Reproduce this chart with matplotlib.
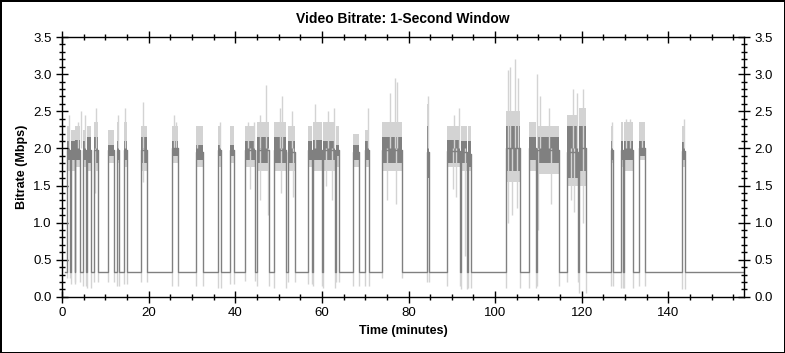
import matplotlib
matplotlib.use('Agg')
import matplotlib.pyplot as plt
from matplotlib.ticker import MultipleLocator, FormatStrFormatter
import numpy as np

plt.rcParams['font.family'] = ['Liberation Sans', 'DejaVu Sans']

# active segments (minutes) and their levels (Mbps)
seg_start = [1.2, 2.0, 3.0, 4.8, 5.8, 7.4, 10.7, 12.8, 14.3, 18.2, 25.5, 30.9, 36.1, 38.9,
             42.3, 45.0, 49.0, 52.2, 56.8, 57.9, 60.3, 63.2, 67.2, 70.0, 73.9, 84.3,
             88.9, 92.1, 93.8, 102.5, 107.9, 109.7, 116.6, 119.4, 126.8, 129.1, 129.8,
             133.3, 143.2]
seg_end = [1.9, 2.9, 4.2, 5.5, 6.6, 8.2, 12.0, 13.2, 14.9, 19.6, 26.8, 32.5, 36.6, 39.6,
           44.6, 47.9, 51.8, 53.8, 57.7, 60.1, 63.0, 64.0, 68.6, 70.9, 78.5, 84.8,
           91.9, 93.6, 94.5, 105.8, 109.5, 114.8, 119.2, 121.0, 127.3, 129.6, 131.9,
           134.6, 143.9]
dark_lo = [1.85, 1.85, 1.85, 1.85, 1.8, 1.8, 1.9, 1.85, 1.85, 1.8, 1.9, 1.85, 1.9, 1.9,
           1.85, 1.8, 1.8, 1.8, 1.85, 1.85, 1.85, 1.9, 1.85, 1.85, 1.8, 1.6,
           1.8, 1.8, 1.75, 1.7, 1.85, 1.8, 1.6, 1.7, 1.85, 1.85, 1.85, 1.9, 1.85]
dark_hi = [2.1, 2.1, 2.12, 2.1, 2.15, 2.15, 2.05, 2.1, 2.1, 2.15, 2.1, 2.05, 2.05, 2.05,
           2.1, 2.15, 2.15, 2.1, 2.1, 2.12, 2.1, 2.05, 2.05, 2.1, 2.15, 2.3,
           2.12, 2.1, 2.1, 2.3, 2.15, 2.15, 2.3, 2.3, 2.1, 2.1, 2.1, 2.1, 2.08]
light_lo = [1.7, 1.7, 1.75, 1.75, 1.7, 1.7, 1.8, 1.8, 1.75, 1.7, 1.8, 1.75, 1.75, 1.8,
            1.75, 1.7, 1.7, 1.7, 1.75, 1.7, 1.7, 1.75, 1.75, 1.75, 1.7, 1.6,
            1.75, 1.7, 1.7, 1.55, 1.7, 1.65, 1.5, 1.5, 1.8, 1.75, 1.7, 1.85, 1.75]
light_hi = [2.3, 2.25, 2.3, 2.25, 2.3, 2.35, 2.25, 2.35, 2.35, 2.3, 2.3, 2.3, 2.3, 2.3,
            2.3, 2.35, 2.35, 2.3, 2.3, 2.35, 2.35, 2.3, 2.2, 2.25, 2.35, 2.6,
            2.3, 2.3, 2.3, 2.5, 2.35, 2.3, 2.45, 2.55, 2.3, 2.35, 2.35, 2.35, 2.3]
edge_dip = [0.25, 0.18, 0.2, 0.15, 0.12, 0.2, 0.2, 0.15, 0.18, 0.2, 0.15, 0.15, 0.12, 0.18,
            0.22, 0.15, 0.12, 0.2, 0.18, 0.15, 0.12, 0.2, 0.15, 0.15, 0.25, 0.2,
            0.15, 0.1, 0.12, 0.12, 0.12, 0.15, 0.2, 0.05, 0.15, 0.12, 0.12, 0.15, 0.1]

# single upward peaks of the light series
peak_t = [1.6, 3.7, 4.3, 5.2, 7.8, 12.9, 14.6, 18.7, 25.9, 26.3, 31.2, 36.4, 43.0, 44.3,
          45.6, 47.2, 50.3, 50.8, 53.0, 58.3, 61.5, 62.7, 70.6, 75.7, 76.9, 77.3,
          84.6, 90.5, 91.6, 102.9, 103.4, 104.6, 105.3, 109.6, 110.3, 112.4,
          117.9, 118.8, 120.2, 127.0, 130.3, 131.1, 134.0, 143.5]
peak_v = [2.45, 2.35, 2.5, 2.45, 2.55, 2.45, 2.55, 2.63, 2.45, 2.35, 2.3, 2.35, 2.35, 2.35,
          2.45, 2.85, 2.55, 2.7, 2.5, 2.6, 2.5, 2.55, 2.55, 2.75, 2.95, 2.9,
          2.7, 2.45, 2.55, 3.05, 3.1, 3.2, 2.95, 3.0, 2.7, 2.55,
          2.8, 2.75, 2.8, 2.35, 2.4, 2.4, 2.35, 2.4]

# single downward dips of the light series
dip_t = [7.7, 18.8, 43.5, 45.8, 47.5, 50.5, 53.3, 61.0, 62.4, 75.0, 77.0, 90.2, 91.0,
         93.0, 103.0, 104.0, 105.0, 110.0, 112.8, 117.5, 118.3, 120.4]
dip_v = [1.4, 1.55, 1.45, 1.3, 1.1, 1.4, 1.35, 1.5, 1.3, 1.3, 1.25, 1.45, 1.35,
         0.55, 1.0, 1.1, 1.2, 0.9, 1.25, 1.3, 1.15, 1.0]

baseline = 0.33
t_end = 157.5

dark = '#808080'
light = '#d3d3d3'

fig = plt.figure(figsize=(7.85, 3.53), dpi=100)
fig.patch.set_edgecolor('black')
fig.patch.set_linewidth(2)
ax = fig.add_axes([0.079, 0.159, 0.869, 0.736])

s = np.array(seg_start); e = np.array(seg_end)
w = e - s

# light envelope, then dark band
ax.bar(s, np.array(light_hi) - np.array(light_lo), width=w, bottom=light_lo,
       align='edge', color=light, linewidth=0)
ax.vlines(peak_t, 2.0, peak_v, color=light, linewidth=1)
ax.vlines(dip_t, dip_v, 2.0, color=light, linewidth=1)
ax.vlines(s, edge_dip, baseline, color=light, linewidth=1)
ax.vlines(e, edge_dip, baseline, color=light, linewidth=1)
ax.bar(s, np.array(dark_hi) - np.array(dark_lo), width=w, bottom=dark_lo,
       align='edge', color=dark, linewidth=0)

# step line through baseline and segments
xs = [0.8]; ys = [baseline]
for a, b, lo, hi in zip(seg_start, seg_end, dark_lo, dark_hi):
    mid = (lo + hi) / 2
    xs += [a, a, b, b]
    ys += [baseline, mid, mid, baseline]
xs.append(t_end); ys.append(baseline)
ax.plot(xs, ys, color=dark, linewidth=1)

ax.set_xlim(0, t_end)
ax.set_ylim(0, 3.5)
ax.xaxis.set_major_locator(MultipleLocator(20))
ax.xaxis.set_minor_locator(MultipleLocator(5))
ax.yaxis.set_major_locator(MultipleLocator(0.5))
ax.yaxis.set_minor_locator(MultipleLocator(0.1))
ax.yaxis.set_major_formatter(FormatStrFormatter('%.1f'))
ax.tick_params(which='both', direction='inout', top=True, right=True,
               labelright=True, labelsize=9.5, width=1)
ax.tick_params(which='major', length=8)
ax.tick_params(which='minor', length=4)
for sp in ax.spines.values():
    sp.set_linewidth(1)

ax.set_title('Video Bitrate: 1-Second Window', fontsize=10, fontweight='bold', pad=10)
ax.set_xlabel('Time (minutes)', fontsize=9, fontweight='bold')
ax.set_ylabel('Bitrate (Mbps)', fontsize=9, fontweight='bold')

fig.savefig('out.png', dpi=100)
